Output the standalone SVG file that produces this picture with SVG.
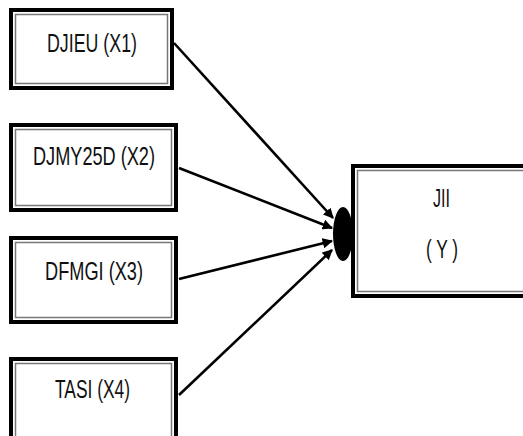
<svg xmlns="http://www.w3.org/2000/svg" width="523" height="436" viewBox="0 0 523 436">
<defs>
<marker id="ah" viewBox="0 0 10 10" refX="9" refY="5" markerWidth="4" markerHeight="4" orient="auto" markerUnits="strokeWidth">
<path d="M0,0 L10,5 L0,10 z" fill="#000"/>
</marker>
</defs>
<style>
.outer{fill:#fff;stroke:#000;stroke-width:4}
.inner{fill:none;stroke:#777;stroke-width:1.5}
.lbl{font-family:"Liberation Sans",Arial,sans-serif;font-size:26px;fill:#111}
.conn{stroke:#000;stroke-width:2.6;fill:none;marker-end:url(#ah)}
</style>
<rect width="523" height="436" fill="#fff"/>
<g id="connectors">
<line class="conn" x1="174" y1="43" x2="333" y2="218"/>
<line class="conn" x1="179" y1="168" x2="332" y2="228"/>
<line class="conn" x1="179" y1="279" x2="332" y2="241"/>
<line class="conn" x1="179" y1="395" x2="332" y2="250"/>
<ellipse cx="343" cy="234" rx="10" ry="27" fill="#000"/>
</g>
<g id="x1">
<rect class="outer" x="11" y="10" width="161" height="78"/>
<rect class="inner" x="15.5" y="14.5" width="152" height="69"/>
<text class="lbl" x="47" y="52" textLength="90" lengthAdjust="spacingAndGlyphs">DJIEU (X1)</text>
</g>
<g id="x2">
<rect class="outer" x="11" y="125" width="165" height="85"/>
<rect class="inner" x="15.5" y="129.5" width="156" height="76"/>
<text class="lbl" x="33" y="165" textLength="122" lengthAdjust="spacingAndGlyphs">DJMY25D (X2)</text>
</g>
<g id="x3">
<rect class="outer" x="11" y="238" width="165" height="84"/>
<rect class="inner" x="15.5" y="242.5" width="156" height="75"/>
<text class="lbl" x="45" y="280" textLength="98" lengthAdjust="spacingAndGlyphs">DFMGI (X3)</text>
</g>
<g id="x4">
<rect class="outer" x="11" y="359" width="165" height="90"/>
<rect class="inner" x="15.5" y="363.5" width="156" height="81"/>
<text class="lbl" x="55" y="398" textLength="75" lengthAdjust="spacingAndGlyphs">TASI (X4)</text>
</g>
<g id="y">
<rect class="outer" x="353" y="166" width="200" height="130"/>
<rect class="inner" x="357.5" y="170.5" width="200" height="121"/>
<text class="lbl" x="433" y="207" textLength="17" lengthAdjust="spacingAndGlyphs">JII</text>
<text class="lbl" x="426" y="258" textLength="32" lengthAdjust="spacingAndGlyphs">( Y )</text>
</g>
</svg>
